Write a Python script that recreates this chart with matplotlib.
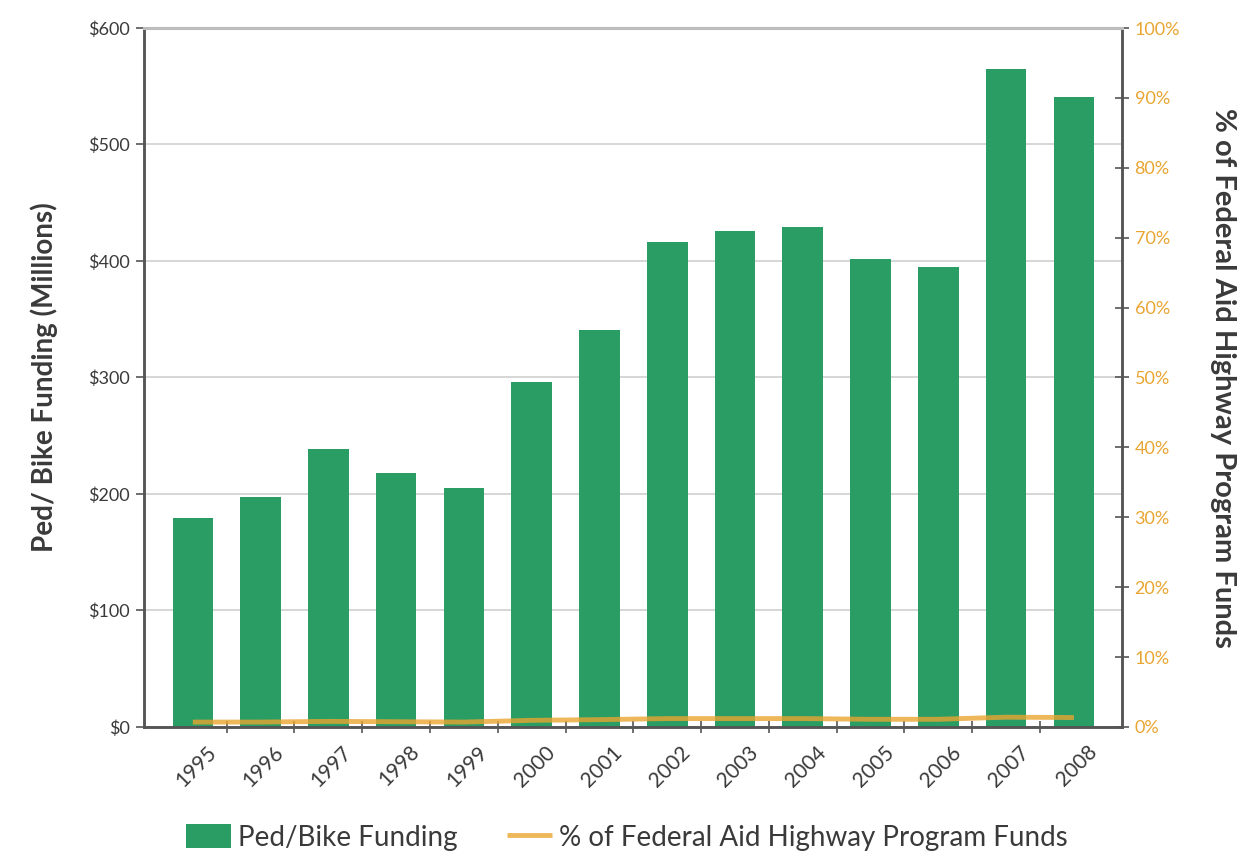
import matplotlib
matplotlib.use("Agg")
import matplotlib.pyplot as plt
import matplotlib.transforms as mtransforms
import numpy as np

plt.rcParams['font.family'] = ['Lato', 'DejaVu Sans']

years = ['1995', '1996', '1997', '1998', '1999', '2000', '2001',
         '2002', '2003', '2004', '2005', '2006', '2007', '2008']
funding = [179, 197, 239, 218, 205, 296, 341, 416, 426, 429, 402, 395, 565, 541]
pct_federal = [0.7, 0.7, 0.8, 0.75, 0.7, 0.95, 1.05, 1.2, 1.2, 1.2, 1.1, 1.1, 1.4, 1.35]

left_ticks = [0, 100, 200, 300, 400, 500, 600]
left_labels = ['$0', '$100', '$200', '$300', '$400', '$500', '$600']
right_ticks = list(range(0, 101, 10))
right_labels = [f'{t}%' for t in right_ticks]

GREEN = '#2A9D64'
ORANGE = '#E9A531'
DARK = '#3A3A3A'
SPINE = '#555555'

fig = plt.figure(figsize=(12.46, 8.59), dpi=100)
ax = fig.add_axes([0.1156, 0.1537, 0.7849, 0.8137])
ax2 = ax.twinx()

x = np.arange(len(years))
ax.bar(x, funding, width=0.6, color=GREEN, zorder=2, label='Ped/Bike Funding')
ax.set_xlim(-0.72, len(years) - 1 + 0.71)
ax.set_ylim(0, 600)
ax.set_yticks(left_ticks)
ax.set_yticklabels(left_labels, fontsize=13, color=DARK)
ax.yaxis.grid(True, color='#CFCFCF', linewidth=1.2, zorder=0)
ax.set_axisbelow(True)
ax.tick_params(axis='y', direction='out', length=6, width=1.2, color=SPINE, pad=4)

# category labels at bar centres, boundary ticks between bars
ax.set_xticks(x)
ax.set_xticklabels([])
ax.tick_params(axis='x', which='major', length=0)
ax.set_xticks(x[:-1] + 0.5, minor=True)
ax.tick_params(axis='x', which='minor', direction='inout', length=9, width=1.2, color=SPINE)
offset = mtransforms.ScaledTranslation(20 / 100, -22 / 100, fig.dpi_scale_trans)
for xi, yr in zip(x, years):
    ax.text(xi, 0, yr, rotation=45, ha='right', va='center', rotation_mode='anchor',
            fontsize=15, color=DARK,
            transform=mtransforms.blended_transform_factory(ax.transData, ax.transAxes) + offset)

ax.set_ylabel('Ped/ Bike Funding (Millions)', fontsize=20, fontweight='bold',
              color=DARK, labelpad=22)

for a in (ax, ax2):
    for side in ['left', 'right', 'bottom']:
        a.spines[side].set_color(SPINE)
        a.spines[side].set_linewidth(1.8)
    a.spines['top'].set_color('#BDBDBD')
    a.spines['top'].set_linewidth(2.2)

ax2.plot(x, pct_federal, color=ORANGE, linewidth=3.5, alpha=0.8, zorder=3,
         label='% of Federal Aid Highway Program Funds', solid_capstyle='butt')
ax2.set_ylim(0, 100)
ax2.set_yticks(right_ticks)
ax2.set_yticklabels(right_labels, fontsize=13, color=ORANGE)
ax2.tick_params(axis='y', direction='inout', length=10, width=1.2, color=SPINE, pad=4)
ax2.set_ylabel('% of Federal Aid Highway Program Funds', fontsize=21, fontweight='bold',
               color=DARK, rotation=-90, labelpad=40)

h1, l1 = ax.get_legend_handles_labels()
h2, l2 = ax2.get_legend_handles_labels()
fig.legend(h1 + h2, l1 + l2, loc='center', bbox_to_anchor=(0.503, 0.025), ncol=2,
           frameon=False, fontsize=20, handlelength=1.6, handleheight=0.9,
           handletextpad=0.25, columnspacing=1.8, labelcolor=DARK)

fig.savefig('out.png', dpi=100, facecolor='white')
